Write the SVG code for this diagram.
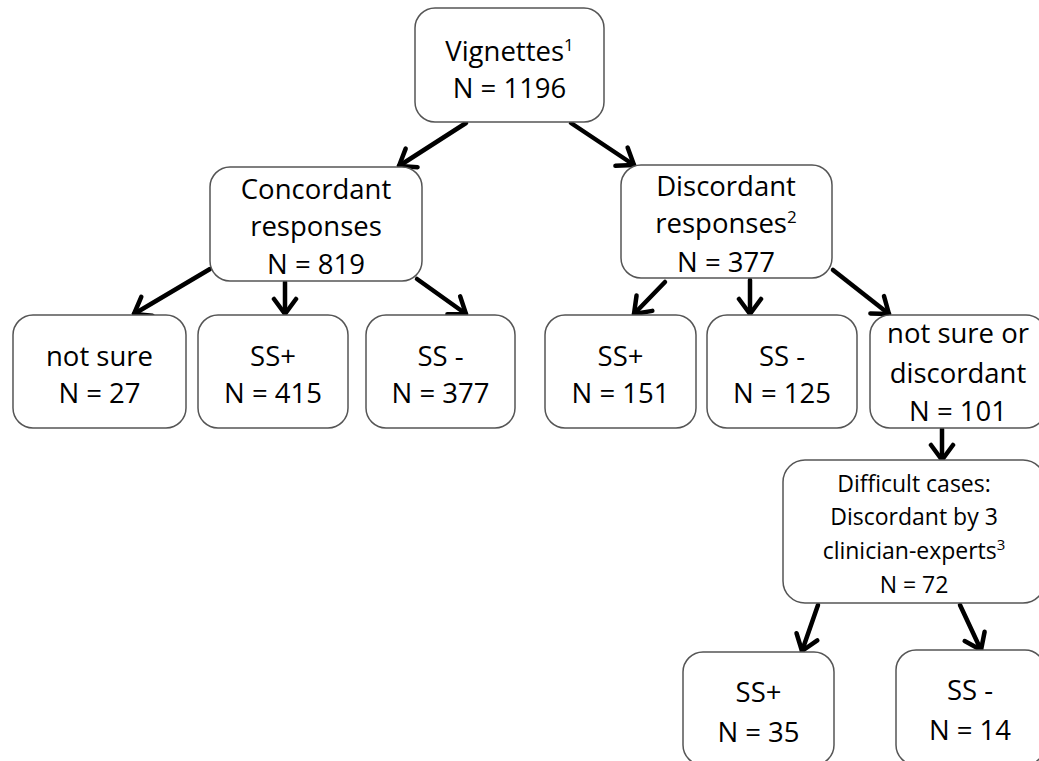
<svg xmlns="http://www.w3.org/2000/svg" width="1039" height="761" viewBox="0 0 1039 761">
<style>
.box{fill:#fff;stroke:#555;stroke-width:1.5}
.t{font-family:"Open Sans","Liberation Sans",sans-serif;font-size:27.5px;fill:#000;text-anchor:middle}
.s{font-size:23px}
.sup{font-size:17px}
.c line{stroke:#000;stroke-width:4.5;stroke-linecap:round;marker-end:url(#ah)}
</style>
<defs>
<marker id="ah" markerUnits="userSpaceOnUse" viewBox="0 0 24 28" markerWidth="24" markerHeight="28" refX="20" refY="14" orient="auto">
<path d="M5,3 L20,14 L5,25" fill="none" stroke="#000" stroke-width="4.5" stroke-linecap="round" stroke-linejoin="round"/>
</marker>
</defs>
<rect width="1039" height="761" fill="#fff"/>
<g class="c" id="connectors">
<line x1="466" y1="123" x2="399" y2="166"/>
<line x1="571" y1="123" x2="634" y2="165"/>
<line x1="210" y1="269" x2="134" y2="314"/>
<line x1="285" y1="282" x2="285" y2="314"/>
<line x1="417" y1="279" x2="466" y2="314"/>
<line x1="665" y1="282" x2="634" y2="314"/>
<line x1="750" y1="280" x2="750" y2="314"/>
<line x1="833" y1="270" x2="889" y2="314"/>
<line x1="942" y1="429" x2="942" y2="460"/>
<line x1="818" y1="605" x2="802" y2="651"/>
<line x1="960" y1="605" x2="981" y2="650"/>
</g>
<g id="vignettes">
<rect class="box" x="415" y="8" width="189" height="114" rx="20"/>
<text class="t" x="509.5" y="61">Vignettes<tspan class="sup" dy="-10">1</tspan></text>
<text class="t" x="509.5" y="98">N = 1196</text>
</g>
<g id="concordant">
<rect class="box" x="210" y="167" width="212" height="114" rx="20"/>
<text class="t" x="316" y="199">Concordant</text>
<text class="t" x="316" y="236">responses</text>
<text class="t" x="316" y="274">N = 819</text>
</g>
<g id="discordant">
<rect class="box" x="621" y="165" width="211" height="113" rx="20"/>
<text class="t" x="726" y="196">Discordant</text>
<text class="t" x="726" y="233">responses<tspan class="sup" dy="-10">2</tspan></text>
<text class="t" x="726" y="272">N = 377</text>
</g>
<g id="c-notsure">
<rect class="box" x="13" y="315" width="173" height="113" rx="20"/>
<text class="t" x="99.5" y="366">not sure</text>
<text class="t" x="99.5" y="403">N = 27</text>
</g>
<g id="c-sspos">
<rect class="box" x="198" y="315" width="150" height="113" rx="20"/>
<text class="t" x="273" y="366">SS+</text>
<text class="t" x="273" y="403">N = 415</text>
</g>
<g id="c-ssneg">
<rect class="box" x="366" y="315" width="149" height="113" rx="20"/>
<text class="t" x="440.5" y="366">SS -</text>
<text class="t" x="440.5" y="403">N = 377</text>
</g>
<g id="d-sspos">
<rect class="box" x="545" y="315" width="151" height="113" rx="20"/>
<text class="t" x="620.5" y="366">SS+</text>
<text class="t" x="620.5" y="403">N = 151</text>
</g>
<g id="d-ssneg">
<rect class="box" x="707" y="315" width="150" height="113" rx="20"/>
<text class="t" x="782" y="366">SS -</text>
<text class="t" x="782" y="403">N = 125</text>
</g>
<g id="d-notsure">
<rect class="box" x="870" y="315" width="176" height="113" rx="20"/>
<text class="t" x="958" y="343">not sure or</text>
<text class="t" x="958" y="383">discordant</text>
<text class="t" x="958" y="421">N = 101</text>
</g>
<g id="difficult">
<rect class="box" x="783" y="460" width="262" height="143" rx="22"/>
<text class="t s" x="914" y="492">Difficult cases:</text>
<text class="t s" x="914" y="525">Discordant by 3</text>
<text class="t s" x="914" y="559">clinician-experts<tspan class="sup" dy="-9" style="font-size:15px">3</tspan></text>
<text class="t s" x="914" y="593">N = 72</text>
</g>
<g id="f-sspos">
<rect class="box" x="683" y="652" width="151" height="113" rx="20"/>
<text class="t" x="758.5" y="702">SS+</text>
<text class="t" x="758.5" y="742">N = 35</text>
</g>
<g id="f-ssneg">
<rect class="box" x="896" y="650" width="149" height="115" rx="20"/>
<text class="t" x="970" y="700">SS -</text>
<text class="t" x="970" y="740">N = 14</text>
</g>
</svg>
